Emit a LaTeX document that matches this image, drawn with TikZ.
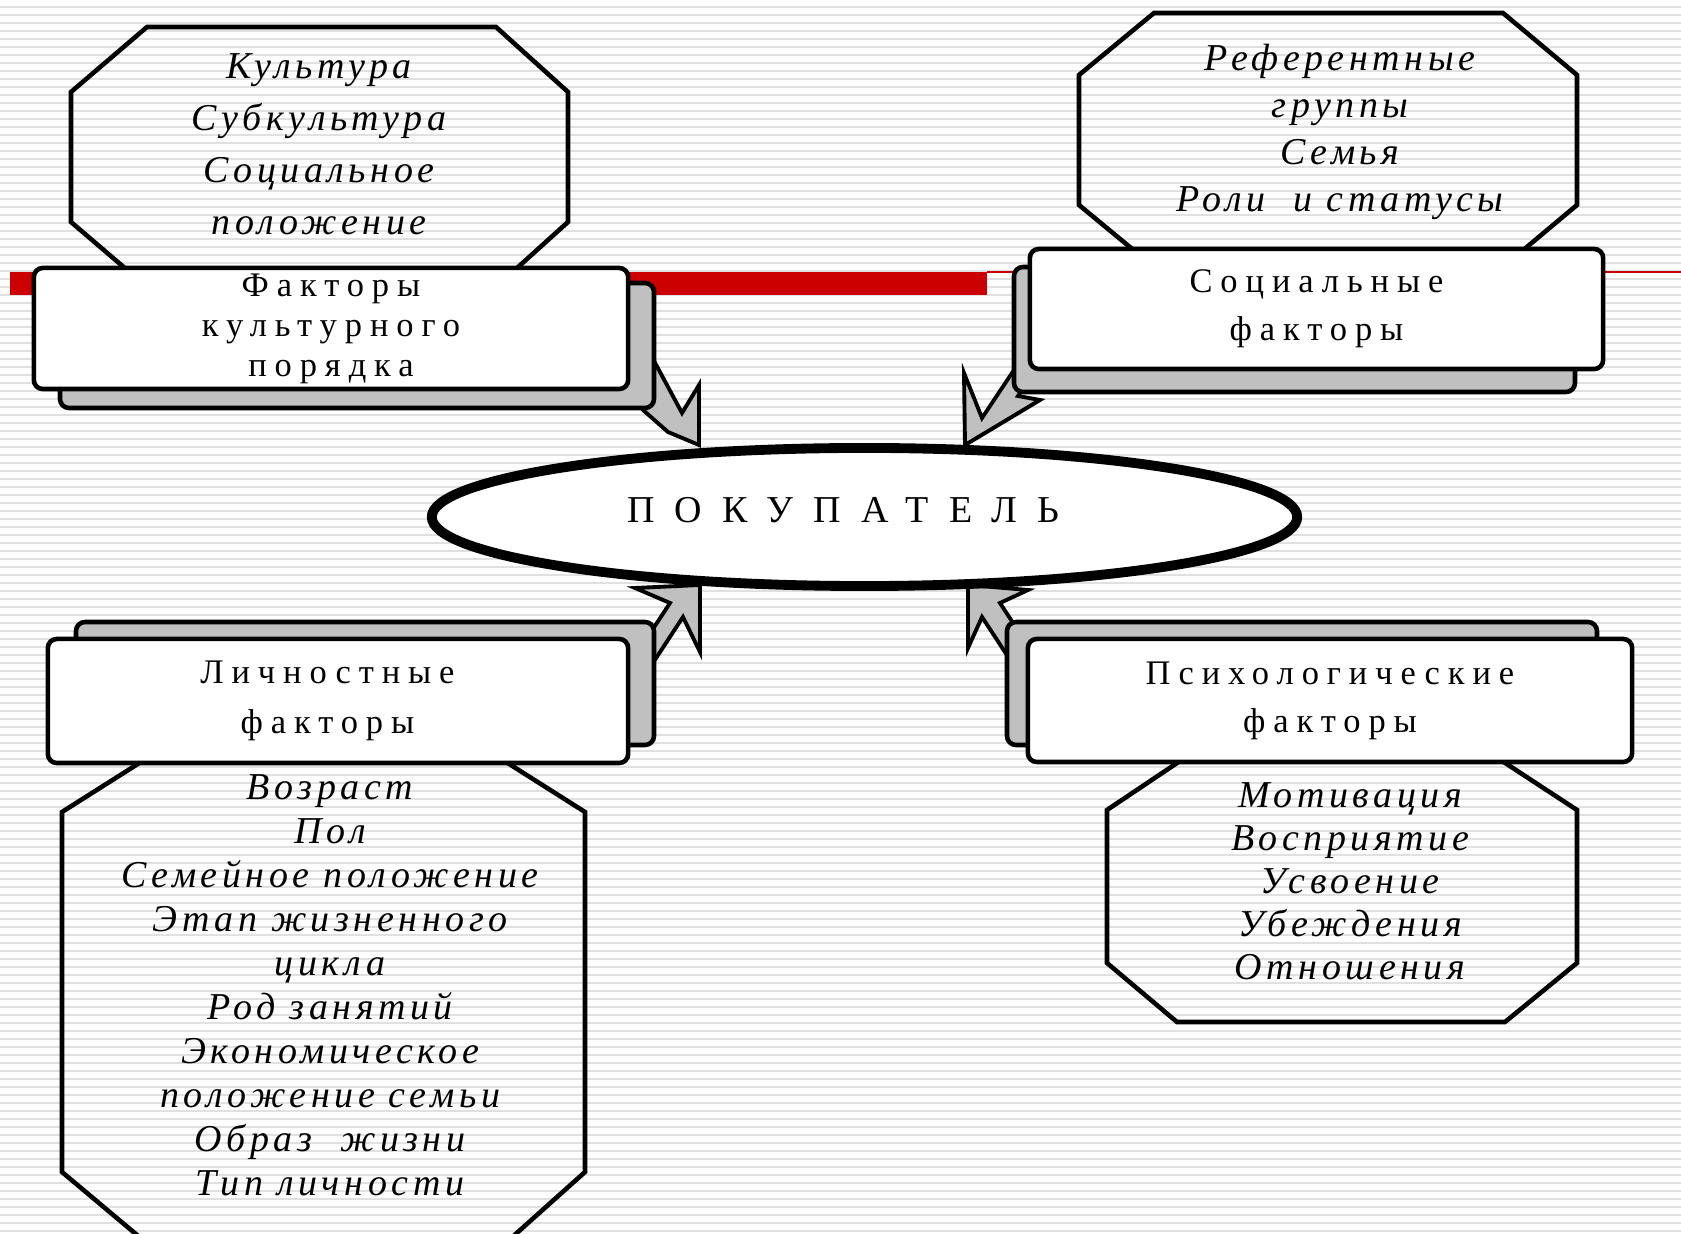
\documentclass[tikz,border=0pt]{standalone}
\usepackage{fontspec}
\setmainfont{Liberation Serif}
\newfontfamily\ramkaFont[LetterSpace=23]{Liberation Serif}
\newfontfamily\spisokFont[LetterSpace=12]{Liberation Serif}
\newfontfamily\kupacFont[LetterSpace=53]{Liberation Serif}
\usepackage{tikz}
\usetikzlibrary{shapes,shapes.geometric,arrows,positioning,calc}
\definecolor{crvena}{RGB}{204,0,0}
\definecolor{sjena}{RGB}{192,192,192}
\definecolor{pruga}{RGB}{224,224,224}

\tikzset{
	ramka/.style={draw=black, line width=1.3pt, fill=white, rounded corners=0.09cm, inner sep=0pt, align=center},
	sjenaRamka/.style={draw=black, line width=1.3pt, fill=sjena, rounded corners=0.09cm},
	oktagon/.style={draw=black, line width=1.3pt},
	strelka/.style={draw=black, line width=1.1pt, fill=sjena},
	spisok/.style={align=center, inner sep=0pt, font=\spisokFont\itshape\fontsize{10.8}{#1}\selectfont},
	natpis/.style={font=\ramkaFont\fontsize{9.8}{#1}\selectfont},
	pruge/.style={draw=pruga, line width=0.6pt}
}

\begin{document}
\begin{tikzpicture}[x=0.01cm,y=-0.01cm]
		\def\sirina{1681}
		\def\visina{1234}
		\def\yCrvena{272}
		\def\xCrvenaKraj{987}

\useasboundingbox (0,0) rectangle (\sirina,\visina);
\fill[white] (0,0) rectangle (\sirina,\visina);
\foreach \yP in {7,15,...,1234} \draw[pruge] (0,\yP) -- (\sirina,\yP);

\fill[crvena] (10,\yCrvena) rectangle (\xCrvenaKraj,295);
\draw[crvena, line width=0.45pt] (\xCrvenaKraj,\yCrvena) -- (\sirina,\yCrvena);

\draw[oktagon] (147,27) -- (496,27) -- (568,92) -- (568,222) -- (496,287) -- (147,287) -- (71,222) -- (71,92) -- cycle;
\draw[oktagon] (1154,13) -- (1503,13) -- (1577,75) -- (1577,205) -- (1503,267) -- (1154,267) -- (1079,205) -- (1079,75) -- cycle;
\draw[oktagon] (152,755) -- (495,755) -- (585,812) -- (585,1172) -- (509,1240) -- (143,1240) -- (62,1172) -- (62,812) -- cycle;
\draw[oktagon] (1189,755) -- (1493,755) -- (1577,810) -- (1577,963) -- (1505,1022) -- (1177,1022) -- (1107,963) -- (1107,810) -- cycle;

\node[spisok=14.8] (kulturaSpisok) at (319,144) {Культура\\Субкультура\\Социальное\\положение};
\node[spisok=13.4] (socijalSpisok) at (1340,132) {Референтные\\группы\\Семья\\Роли~ и статусы};
\node[spisok=12.5] (licnostSpisok) at (330,985) {Возраст\\Пол\\Семейное положение\\Этап жизненного\\цикла\\Род занятий\\Экономическое\\положение семьи\\Образ~ жизни\\Тип личности};
\node[spisok=12.2] (psihoSpisok) at (1350,881) {Мотивация\\Восприятие\\Усвоение\\Убеждения\\Отношения};

\draw[strelka] (699,445) -- (699,385) -- (682,413) -- (646,346) -- (620,367) -- (643,410) -- (668,432) -- cycle;
\draw[strelka] (965,445) -- (964,373) -- (982,418) -- (1022,358) -- (1038,366) -- (1018,396) -- (1040,400) -- cycle;
\draw[strelka] (700,585) -- (700,652) -- (683,617) -- (643,678) -- (630,664) -- (670,603) -- (635,588) -- cycle;
\draw[strelka] (968,585) -- (968,648) -- (982,617) -- (1020,675) -- (1030,649) -- (1000,603) -- (1028,590) -- cycle;

\draw[sjenaRamka] (60,283) rectangle (654,408);
\draw[sjenaRamka] (1014,267) rectangle (1575,392);
\draw[sjenaRamka] (76,622) rectangle (654,745);
\draw[sjenaRamka] (1007,622) rectangle (1597,745);

\node[ramka, natpis=11.4, minimum width=5.94cm, minimum height=1.21cm] (kulturni) at (331,328.5) {Факторы\\культурного\\порядка};
\node[ramka, natpis=13.7, minimum width=5.73cm, minimum height=1.20cm] (socijalni) at (1316.5,309) {Социальные\\факторы};
\node[ramka, natpis=14.2, minimum width=5.80cm, minimum height=1.24cm] (licnostni) at (338,701) {Личностные\kern6pt\\факторы\kern6pt};
\node[ramka, natpis=13.7, minimum width=6.04cm, minimum height=1.23cm] (psiholoski) at (1330,700.5) {Психологические\\факторы};

\node[ellipse, draw=black, line width=2.8pt, fill=white, minimum width=8.65cm, minimum height=1.38cm, inner sep=0pt, text depth=4pt, font=\kupacFont\fontsize{10.8}{13}\selectfont] (pokupatel) at (864.5,517) {ПОКУПАТЕЛЬ\kern12pt};

	\end{tikzpicture}
\end{document}
